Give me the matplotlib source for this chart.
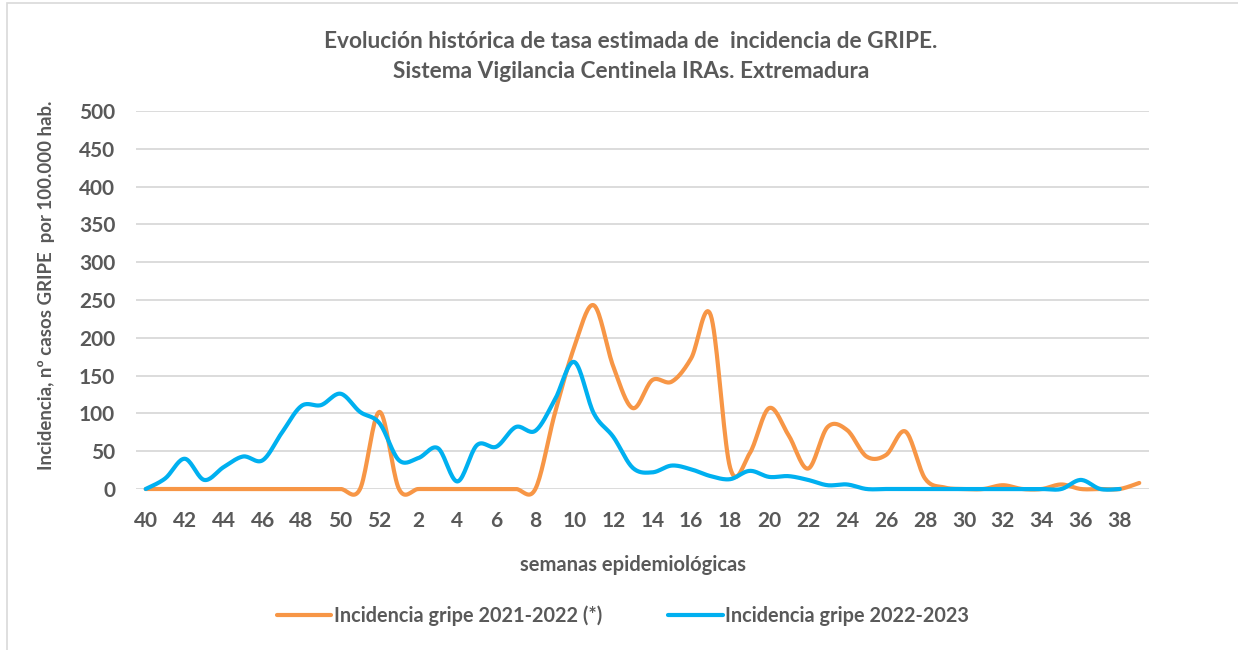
import numpy as np
import matplotlib
matplotlib.use('Agg')
import matplotlib.pyplot as plt
from matplotlib.patches import Rectangle

# semanas epidemiologicas 40..52, 1..39
weeks = list(range(40, 53)) + list(range(1, 40))

gripe_2122 = [0, 0, 0, 0, 0, 0, 0, 0, 0, 0, 0, 0, 102, 0, 0, 0, 0, 0, 0, 0,
              0, 100, 188, 243, 162, 107, 144, 142, 173, 230, 28, 47, 107, 71, 27, 82,
              78, 43, 45, 76, 14, 2, 0, 0, 5, 0, 0, 6, 0, 0, 0, 8]
gripe_2223 = [0, 14, 40, 12, 29, 43, 38, 75, 110, 111, 126, 102, 87, 38, 41, 54,
              10, 58, 56, 82, 77, 118, 168, 100, 69, 28, 22, 31, 26, 17, 13, 24,
              16, 17, 12, 5, 6, 0, 0, 0, 0, 0, 0, 0, 0, 0, 0, 0, 12, 0, 0]

ORANGE = '#F79646'
BLUE = '#00B0F0'
GREY = '#595959'
FONT = 'Lato'


def smooth(y, n=20):
    # excel-like smoothed line (catmull-rom bezier)
    y = np.asarray(y, dtype=float)
    x = np.arange(len(y), dtype=float)
    pts = np.column_stack([x, y])
    ext = np.vstack([pts[0], pts, pts[-1]])
    t = np.linspace(0, 1, n)[:, None]
    out = []
    for i in range(len(pts) - 1):
        p0, p1, p2, p3 = ext[i], ext[i + 1], ext[i + 2], ext[i + 3]
        c1 = p1 + (p2 - p0) / 6
        c2 = p2 - (p3 - p1) / 6
        seg = ((1 - t) ** 3) * p1 + 3 * ((1 - t) ** 2) * t * c1 + 3 * (1 - t) * t ** 2 * c2 + t ** 3 * p2
        out.append(seg if i == 0 else seg[1:])
    out = np.vstack(out)
    return out[:, 0], out[:, 1]


fig = plt.figure(figsize=(12.38, 6.5), dpi=100, facecolor='white')
fig.patches.append(Rectangle((7 / 1238, -0.01), 1.0, 1.0 - 3 / 650 + 0.01, transform=fig.transFigure,
                             fill=False, edgecolor='#D9D9D9', linewidth=1.2))

ax = fig.add_axes([136 / 1238, 161 / 650, (1149 - 136) / 1238, 378 / 650])

xo, yo = smooth(gripe_2122)
xb, yb = smooth(gripe_2223)
l1, = ax.plot(xo, yo, color=ORANGE, lw=3.0, solid_capstyle='round', clip_on=False, zorder=3,
              label='Incidencia gripe 2021-2022 (*)')
l2, = ax.plot(xb, yb, color=BLUE, lw=3.0, solid_capstyle='round', clip_on=False, zorder=4,
              label='Incidencia gripe 2022-2023')

ax.set_xlim(-0.5, len(weeks) - 0.5)
ax.set_ylim(0, 500)
ax.set_yticks(range(0, 501, 50))
ax.set_xticks(range(0, len(weeks), 2))
ax.set_xticklabels([str(weeks[i]) for i in range(0, len(weeks), 2)])
ax.grid(axis='y', color='#D9D9D9', lw=1.3)
ax.set_axisbelow(True)
for s in ax.spines.values():
    s.set_visible(False)
ax.tick_params(axis='both', length=0, colors=GREY, labelsize=15)
ax.tick_params(axis='x', pad=16)
ax.tick_params(axis='y', pad=15)
for lab in ax.get_xticklabels() + ax.get_yticklabels():
    lab.set_fontfamily(FONT)
    lab.set_fontweight('bold')

fig.text(631 / 1238, 1 - 41 / 650, 'Evolución histórica de tasa estimada de  incidencia de GRIPE.',
         ha='center', va='center', fontsize=16.3, fontweight='bold', color=GREY, family=FONT)
fig.text(631 / 1238, 1 - 71 / 650, 'Sistema Vigilancia Centinela IRAs. Extremadura',
         ha='center', va='center', fontsize=16.3, fontweight='bold', color=GREY, family=FONT)
fig.text(47 / 1238, 1 - 285 / 650, 'Incidencia, nº casos GRIPE  por 100.000 hab.', rotation=90,
         ha='center', va='center', fontsize=13.4, fontweight='bold', color=GREY, family=FONT)
fig.text(633 / 1238, 1 - 565 / 650, 'semanas epidemiológicas',
         ha='center', va='center', fontsize=14.5, fontweight='bold', color=GREY, family=FONT)

leg = fig.legend(handles=[l1, l2], loc='center', bbox_to_anchor=(623 / 1238, 1 - 616 / 650), ncol=2,
                 frameon=False, handlelength=2.75, handletextpad=0.15, columnspacing=3.3,
                 borderpad=0, prop={'family': FONT, 'weight': 'bold', 'size': 14.3})
for t in leg.get_texts():
    t.set_color(GREY)

fig.savefig('out.png', dpi=100, facecolor='white')
